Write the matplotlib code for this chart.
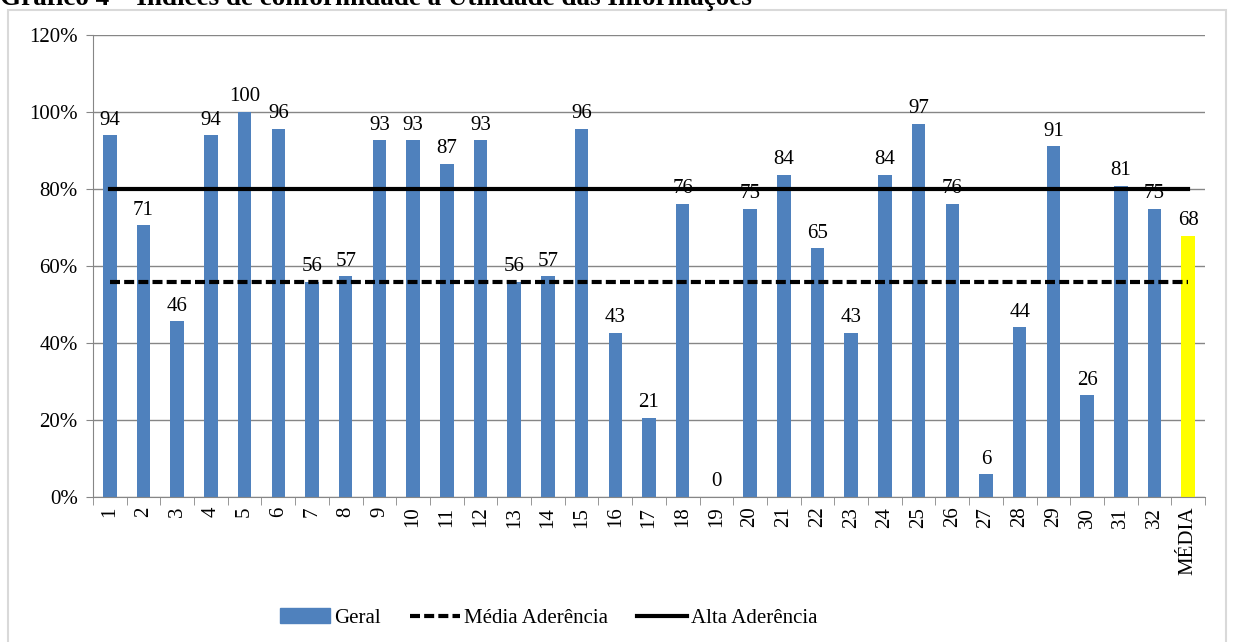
import numpy as np
import matplotlib
matplotlib.use("Agg")
import matplotlib.pyplot as plt
from matplotlib.patches import Rectangle
from matplotlib.lines import Line2D
from matplotlib.ticker import FuncFormatter, FixedLocator

plt.rcParams["font.family"] = ["Liberation Serif", "DejaVu Serif"]

categories = [str(i) for i in range(1, 33)] + ["MÉDIA"]
geral = [94.0, 70.6, 45.6, 94.0, 100.0, 95.6, 55.9, 57.3, 92.6, 92.6, 86.6,
         92.6, 55.9, 57.3, 95.6, 42.7, 20.6, 76.2, 0.0, 74.8, 83.7, 64.6,
         42.7, 83.7, 97.0, 76.2, 5.9, 44.1, 91.1, 26.4, 80.9, 74.8, 67.9]
media_aderencia = 55.9
alta_aderencia = 80.0
title = "Gráfico 4 – Índices de conformidade à Utilidade das Informações"

fs = 15

fig = plt.figure(figsize=(12.33, 6.42), dpi=100)
ax = fig.add_axes([0.0754, 0.2259, 0.9019, 0.7196])

x = np.arange(len(categories))
colors = ["#4F81BD"] * (len(categories) - 1) + ["#FFFF00"]
ax.bar(x, geral, width=0.4, color=colors, zorder=2)

dash = (0, (2.4, 1.0))
ax.plot(x, [media_aderencia] * len(x), color="black", lw=3, ls=dash, zorder=3)
ax.plot(x, [alta_aderencia] * len(x), color="black", lw=3, zorder=3)

for xi, v in zip(x, geral):
    ax.annotate(f"{v:.0f}", (xi, v), xytext=(0, 4), textcoords="offset points",
                ha="center", va="bottom", fontsize=fs)

ax.set_xlim(-0.5, len(categories) - 0.5)
ax.set_ylim(0, 120)
ax.set_yticks(np.arange(0, 121, 20))
ax.yaxis.set_major_formatter(FuncFormatter(lambda v, p: f"{v:.0f}%"))
ax.yaxis.grid(True, color="#868686", lw=1)
ax.set_axisbelow(True)

ax.set_xticks(x)
ax.set_xticklabels(categories, rotation=90, fontsize=fs)
ax.xaxis.set_minor_locator(FixedLocator(np.arange(-0.5, len(categories), 1)))
ax.tick_params(axis="x", which="major", length=0, pad=7)
ax.tick_params(axis="x", which="minor", length=6, color="#868686")
ax.tick_params(axis="y", length=5, color="#868686", labelsize=fs, pad=6)

for s in ["top", "right"]:
    ax.spines[s].set_visible(False)
for s in ["left", "bottom"]:
    ax.spines[s].set_color("#868686")

fig.patches.append(Rectangle((8 / 1233, -0.1), 1218 / 1233, 1.1 - 10 / 642,
                             transform=fig.transFigure, fill=False,
                             edgecolor="#D9D9D9", lw=1.5))
# title is cut by the top edge in the source image
fig.text(0.0, 1 - 5 / 642, title, fontsize=19.5, fontweight="bold", va="baseline", ha="left")

handles = [Rectangle((0, 0), 1, 1, color="#4F81BD"),
           Line2D([], [], color="black", lw=3, ls=dash),
           Line2D([], [], color="black", lw=3)]
fig.legend(handles, ["Geral", "Média Aderência", "Alta Aderência"],
           loc="center", bbox_to_anchor=(0.445, 1 - 618 / 642), ncol=3,
           frameon=False, fontsize=fs, handlelength=2.4, handletextpad=0.2,
           columnspacing=1.4)

fig.savefig("out.png", dpi=100)
